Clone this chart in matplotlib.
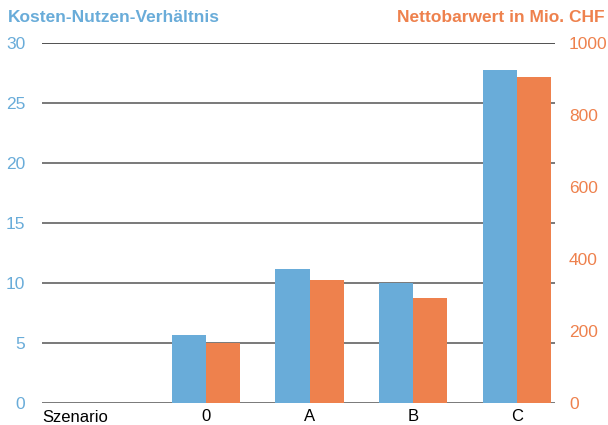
import numpy as np
import matplotlib.pyplot as plt

plt.rcParams['font.family'] = ['Liberation Sans', 'DejaVu Sans']

categories = ['0', 'A', 'B', 'C']
kosten_nutzen = [5.65, 11.15, 10.0, 27.75]
nettobarwert = [166, 342, 292, 905]

blue = '#69acd9'
orange = '#ee814d'

fig = plt.figure(figsize=(6.08, 4.25), dpi=100)
ax = fig.add_axes([0.069, 0.0518, 0.844, 0.847])
ax2 = ax.twinx()

x = np.arange(1, len(categories) + 1)
w = 0.33
ax.bar(x - w / 2, kosten_nutzen, w, color=blue, zorder=3)
ax2.bar(x + w / 2, nettobarwert, w, color=orange, zorder=3)

ax.set_ylim(0, 30)
ax2.set_ylim(0, 1000)
ax.set_xlim(-0.585, 4.37)
ax.set_yticks(range(0, 31, 5))
ax2.set_yticks(range(0, 1001, 200))
for y in range(0, 31, 5):
    ax.axhline(y, color='#222' if y == 30 else '#555', lw=1.1, zorder=1)

ax.set_xticks(x)
ax.set_xticklabels(categories)
ax.text(0.0, -0.02, 'Szenario', transform=ax.transAxes, ha='left', va='top', fontsize=12)

for a in (ax, ax2):
    for s in a.spines.values():
        s.set_visible(False)
    a.tick_params(length=0)
ax.tick_params(axis='x', labelsize=12, pad=4)
ax.tick_params(axis='y', labelsize=12.5, labelcolor=blue, pad=12)
ax2.tick_params(axis='y', labelsize=12.5, labelcolor=orange, pad=10)

fig.text(0.013, 0.958, 'Kosten-Nutzen-Verhältnis', color=blue, fontsize=12.5,
         fontweight='bold', ha='left', va='center')
fig.text(0.995, 0.958, 'Nettobarwert in Mio. CHF', color=orange, fontsize=12.5,
         fontweight='bold', ha='right', va='center')

fig.savefig('out.png', dpi=100)
